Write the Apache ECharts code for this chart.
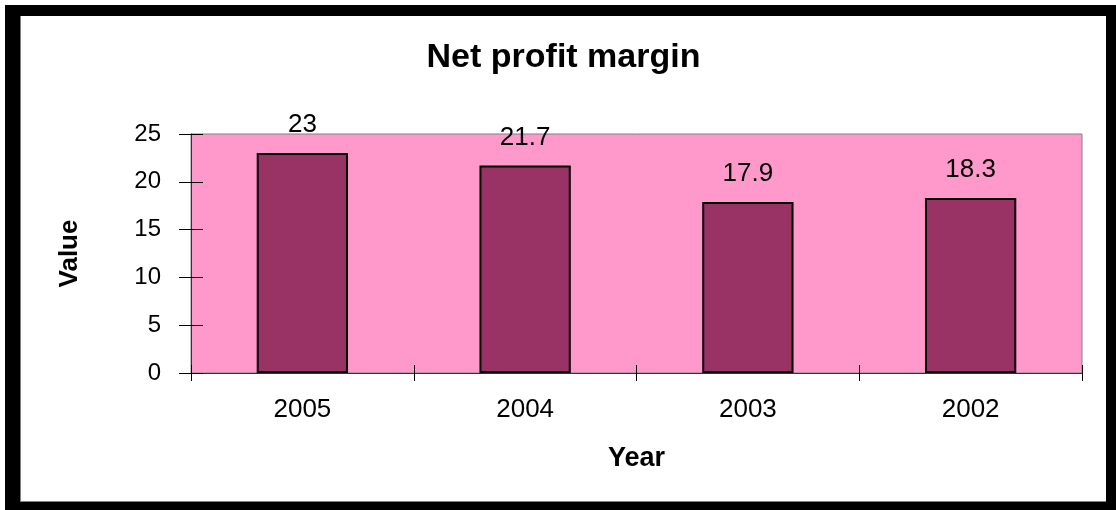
<!DOCTYPE html>
<html>
<head>
<meta charset="utf-8">
<script src="https://cdn.jsdelivr.net/npm/echarts@6/dist/echarts.min.js"></script>
<style>
  html, body { margin: 0; padding: 0; background: #fff; }
  .frame {
    position: absolute; left: 5px; top: 5px;
    width: 1111px; height: 505px; background: #000;
  }
  #chart {
    position: absolute; left: 20px; top: 16px;
    width: 1085px; height: 485px; background: #fff;
    border-left: 1px solid #808080; border-bottom: 1px solid #808080;
  }
</style>
</head>
<body>
<div class="frame"></div>
<div id="chart"></div>
<script>
const years = ['2005', '2004', '2003', '2002']
const margins = [23, 21.7, 17.9, 18.3]
const yTicks = { min: 0, max: 25, interval: 5 }

const font = 'Liberation Sans, Arial, sans-serif'

const chart = echarts.init(document.getElementById('chart'))
chart.setOption({
  animation: false,
  title: {
    text: 'Net profit margin',
    left: 'center',
    top: 20,
    textStyle: { fontFamily: font, fontSize: 34, fontWeight: 'bold', color: '#000' }
  },
  grid: {
    left: 170,
    right: 24,
    top: 118,
    bottom: 128,
    show: true,
    backgroundColor: '#FF99CC',
    borderColor: '#808080',
    borderWidth: 1
  },
  xAxis: [
    {
      type: 'category',
      data: years,
      name: 'Year',
      nameLocation: 'middle',
      nameGap: 72,
      nameTextStyle: { fontFamily: font, fontSize: 27, fontWeight: 'bold', color: '#000' },
      axisLine: { lineStyle: { color: '#333', width: 1 } },
      axisTick: { show: true, length: 8, lineStyle: { color: '#000' } },
      axisLabel: { fontFamily: font, fontSize: 26, color: '#000', margin: 24 }
    },
    {
      type: 'category',
      data: years,
      position: 'bottom',
      axisLine: { show: false },
      axisTick: { show: true, inside: true, length: 8, lineStyle: { color: '#000' } },
      axisLabel: { show: false }
    }
  ],
  yAxis: [
    {
      type: 'value',
      min: yTicks.min,
      max: yTicks.max,
      interval: yTicks.interval,
      name: 'Value',
      nameLocation: 'middle',
      nameGap: 108,
      nameTextStyle: { fontFamily: font, fontSize: 26, fontWeight: 'bold', color: '#000' },
      splitLine: { show: false },
      axisLine: { show: true, lineStyle: { color: '#333', width: 1 } },
      axisTick: { show: true, length: 12, lineStyle: { color: '#000' } },
      axisLabel: { fontFamily: font, fontSize: 24, color: '#000', margin: 30 }
    },
    {
      type: 'value',
      min: yTicks.min,
      max: yTicks.max,
      interval: yTicks.interval,
      position: 'left',
      splitLine: { show: false },
      axisLine: { show: false },
      axisTick: { show: true, inside: true, length: 12, lineStyle: { color: '#000' } },
      axisLabel: { show: false }
    }
  ],
  series: [
    {
      type: 'bar',
      data: margins,
      barWidth: '41%',
      itemStyle: { color: '#993366', borderColor: '#000', borderWidth: 2 },
      label: {
        show: true,
        position: 'top',
        distance: 15,
        fontFamily: font,
        fontSize: 26,
        color: '#000'
      }
    }
  ]
})
</script>
</body>
</html>
